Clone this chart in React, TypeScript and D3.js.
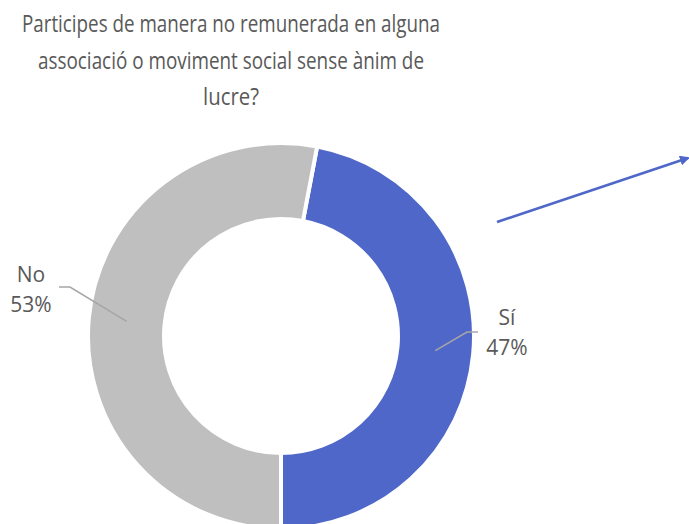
import React from 'react';
import * as d3 from 'd3';

const W = 689, H = 524;
const CX = 281, CY = 336;
const R_OUT = 193, R_IN = 117;

const categories = ['Sí', 'No'];
const values = [47, 53];
const colors = ['#4E67C8', '#BFBFBF'];
const titleLines = [
  'Participes de manera no remunerada en alguna',
  'associació o moviment social sense ànim de',
  'lucre?',
];
const titleWidths = [418, 386, 56];

// label placement (as laid out in the original), relative to the chart centre
const labelPos = [
  { x: 226, y: -11, elbow: [186, -4], elbowLen: 11 },
  { x: -250, y: -54, elbow: [-211, -49], elbowLen: -11 },
];

const FONT = '"Open Sans", "Noto Sans", sans-serif';
const TEXT = '#595959';

export default function App() {
  const total = d3.sum(values);
  const start = Math.PI * 2 * (0.5 - values[0] / total);
  const pie = d3.pie<number>().sort(null).startAngle(start).endAngle(start + Math.PI * 2);
  const arcs = pie(values);
  const arc = d3.arc<d3.PieArcDatum<number>>().innerRadius(R_IN).outerRadius(R_OUT);
  const fmt = d3.format('.0%');

  return (
    <svg width={W} height={H} style={{ position: 'absolute', left: 0, top: 0, background: '#fff' }}>
      <defs>
        <marker id="arrow" viewBox="0 0 10 10" refX="8" refY="5" markerWidth="4" markerHeight="4" orient="auto">
          <path d="M0,0 L10,5 L0,10 z" fill="#4E67C8" />
        </marker>
      </defs>
      {titleLines.map((t, i) => (
        <text key={i} x={231} y={32 + i * 36.5} textAnchor="middle" fontFamily={FONT} fontSize={24.5} fill={TEXT}
          textLength={titleWidths[i]} lengthAdjust="spacingAndGlyphs">
          {t}
        </text>
      ))}
      <g transform={`translate(${CX},${CY})`}>
        {arcs.map((a, i) => (
          <path key={i} d={arc(a) || ''} fill={colors[i]} stroke="#fff" strokeWidth={4} />
        ))}
        {arcs.map((a, i) => {
          const mid = (a.startAngle + a.endAngle) / 2;
          const rm = (R_IN + R_OUT) / 2;
          const px = Math.sin(mid) * rm, py = -Math.cos(mid) * rm;
          const lp = labelPos[i];
          const [ex, ey] = lp.elbow;
          return (
            <g key={'l' + i}>
              <polyline points={`${px},${py} ${ex},${ey} ${ex + lp.elbowLen},${ey}`} fill="none" stroke="#A6A6A6" strokeWidth={1.5} />
              <text x={lp.x} y={lp.y} textAnchor="middle" fontFamily={FONT} fontSize={21} fill={TEXT}>
                <tspan x={lp.x} dy={0}>{categories[i]}</tspan>
                <tspan x={lp.x} dy={30}>{fmt(values[i] / total)}</tspan>
              </text>
            </g>
          );
        })}
      </g>
      <line x1={497} y1={222} x2={688} y2={158} stroke="#4E67C8" strokeWidth={2.5} markerEnd="url(#arrow)" />
    </svg>
  );
}
